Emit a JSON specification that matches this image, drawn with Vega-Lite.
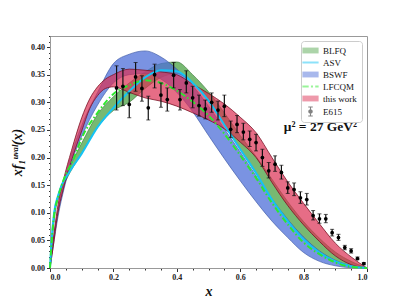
{
  "$schema": "https://vega.github.io/schema/vega-lite/v6.json",
  "width": 317,
  "height": 232,
  "autosize": {"type": "none"},
  "padding": {"left": 50, "top": 36, "right": 40, "bottom": 34},
  "background": "white",
  "config": {
    "view": {"stroke": "#999", "strokeWidth": 1},
    "axis": {
      "labelFont": "Liberation Serif",
      "labelFontWeight": "bold",
      "labelFontSize": 8,
      "labelColor": "#222",
      "domainColor": "#999",
      "tickColor": "#333",
      "grid": false,
      "titleFont": "Liberation Serif",
      "titleFontStyle": "italic",
      "titleFontWeight": "bold",
      "titleFontSize": 14,
      "titleColor": "#111",
      "labelOverlap": false
    }
  },
  "datasets": {
    "bands": [
      {"s": "BLFQ", "x": 0, "lo": 0, "hi": 0},
      {"s": "BLFQ", "x": 0.006, "lo": 0.045, "hi": 0.05},
      {"s": "BLFQ", "x": 0.015, "lo": 0.095, "hi": 0.102},
      {"s": "BLFQ", "x": 0.03, "lo": 0.132, "hi": 0.14},
      {"s": "BLFQ", "x": 0.05, "lo": 0.158, "hi": 0.168},
      {"s": "BLFQ", "x": 0.1, "lo": 0.208, "hi": 0.226},
      {"s": "BLFQ", "x": 0.15, "lo": 0.255, "hi": 0.278},
      {"s": "BLFQ", "x": 0.2, "lo": 0.285, "hi": 0.31},
      {"s": "BLFQ", "x": 0.25, "lo": 0.3, "hi": 0.335},
      {"s": "BLFQ", "x": 0.3, "lo": 0.325, "hi": 0.355},
      {"s": "BLFQ", "x": 0.35, "lo": 0.345, "hi": 0.37},
      {"s": "BLFQ", "x": 0.4, "lo": 0.352, "hi": 0.373},
      {"s": "BLFQ", "x": 0.45, "lo": 0.334, "hi": 0.35},
      {"s": "BLFQ", "x": 0.5, "lo": 0.303, "hi": 0.319},
      {"s": "BLFQ", "x": 0.55, "lo": 0.26, "hi": 0.281},
      {"s": "BLFQ", "x": 0.6, "lo": 0.215, "hi": 0.24},
      {"s": "BLFQ", "x": 0.65, "lo": 0.171, "hi": 0.202},
      {"s": "BLFQ", "x": 0.7, "lo": 0.124, "hi": 0.161},
      {"s": "BLFQ", "x": 0.75, "lo": 0.085, "hi": 0.12},
      {"s": "BLFQ", "x": 0.8, "lo": 0.053, "hi": 0.084},
      {"s": "BLFQ", "x": 0.85, "lo": 0.028, "hi": 0.054},
      {"s": "BLFQ", "x": 0.9, "lo": 0.011, "hi": 0.029},
      {"s": "BLFQ", "x": 0.95, "lo": 0.003, "hi": 0.012},
      {"s": "BLFQ", "x": 1, "lo": 0, "hi": 0},
      {"s": "BSWF", "x": 0, "lo": 0, "hi": 0},
      {"s": "BSWF", "x": 0.01, "lo": 0.038, "hi": 0.048},
      {"s": "BSWF", "x": 0.025, "lo": 0.092, "hi": 0.104},
      {"s": "BSWF", "x": 0.045, "lo": 0.145, "hi": 0.158},
      {"s": "BSWF", "x": 0.07, "lo": 0.195, "hi": 0.21},
      {"s": "BSWF", "x": 0.1, "lo": 0.238, "hi": 0.258},
      {"s": "BSWF", "x": 0.15, "lo": 0.295, "hi": 0.318},
      {"s": "BSWF", "x": 0.2, "lo": 0.335, "hi": 0.37},
      {"s": "BSWF", "x": 0.25, "lo": 0.35, "hi": 0.387},
      {"s": "BSWF", "x": 0.3, "lo": 0.352, "hi": 0.393},
      {"s": "BSWF", "x": 0.35, "lo": 0.342, "hi": 0.382},
      {"s": "BSWF", "x": 0.4, "lo": 0.318, "hi": 0.36},
      {"s": "BSWF", "x": 0.45, "lo": 0.283, "hi": 0.33},
      {"s": "BSWF", "x": 0.5, "lo": 0.24, "hi": 0.293},
      {"s": "BSWF", "x": 0.55, "lo": 0.198, "hi": 0.252},
      {"s": "BSWF", "x": 0.6, "lo": 0.158, "hi": 0.21},
      {"s": "BSWF", "x": 0.65, "lo": 0.12, "hi": 0.167},
      {"s": "BSWF", "x": 0.7, "lo": 0.085, "hi": 0.125},
      {"s": "BSWF", "x": 0.75, "lo": 0.055, "hi": 0.088},
      {"s": "BSWF", "x": 0.8, "lo": 0.028, "hi": 0.056},
      {"s": "BSWF", "x": 0.85, "lo": 0.012, "hi": 0.031},
      {"s": "BSWF", "x": 0.9, "lo": 0.004, "hi": 0.014},
      {"s": "BSWF", "x": 0.95, "lo": 0.0005, "hi": 0.004},
      {"s": "BSWF", "x": 1, "lo": 0, "hi": 0},
      {"s": "this work", "x": 0, "lo": 0, "hi": 0},
      {"s": "this work", "x": 0.01, "lo": 0.038, "hi": 0.05},
      {"s": "this work", "x": 0.023, "lo": 0.093, "hi": 0.106},
      {"s": "this work", "x": 0.042, "lo": 0.143, "hi": 0.158},
      {"s": "this work", "x": 0.068, "lo": 0.195, "hi": 0.213},
      {"s": "this work", "x": 0.1, "lo": 0.248, "hi": 0.272},
      {"s": "this work", "x": 0.125, "lo": 0.288, "hi": 0.306},
      {"s": "this work", "x": 0.15, "lo": 0.312, "hi": 0.328},
      {"s": "this work", "x": 0.175, "lo": 0.325, "hi": 0.342},
      {"s": "this work", "x": 0.2, "lo": 0.328, "hi": 0.35},
      {"s": "this work", "x": 0.25, "lo": 0.318, "hi": 0.36},
      {"s": "this work", "x": 0.3, "lo": 0.308, "hi": 0.358},
      {"s": "this work", "x": 0.35, "lo": 0.302, "hi": 0.355},
      {"s": "this work", "x": 0.4, "lo": 0.293, "hi": 0.35},
      {"s": "this work", "x": 0.45, "lo": 0.281, "hi": 0.333},
      {"s": "this work", "x": 0.5, "lo": 0.268, "hi": 0.316},
      {"s": "this work", "x": 0.55, "lo": 0.252, "hi": 0.297},
      {"s": "this work", "x": 0.6, "lo": 0.228, "hi": 0.273},
      {"s": "this work", "x": 0.65, "lo": 0.2, "hi": 0.245},
      {"s": "this work", "x": 0.7, "lo": 0.155, "hi": 0.2},
      {"s": "this work", "x": 0.75, "lo": 0.113, "hi": 0.156},
      {"s": "this work", "x": 0.8, "lo": 0.078, "hi": 0.117},
      {"s": "this work", "x": 0.85, "lo": 0.048, "hi": 0.08},
      {"s": "this work", "x": 0.9, "lo": 0.022, "hi": 0.045},
      {"s": "this work", "x": 0.95, "lo": 0.006, "hi": 0.02},
      {"s": "this work", "x": 1, "lo": 0, "hi": 0}
    ],
    "lines": [
      {"s": "ASV", "x": 0, "lo": 0},
      {"s": "ASV", "x": 0.005, "lo": 0.05},
      {"s": "ASV", "x": 0.013, "lo": 0.1},
      {"s": "ASV", "x": 0.025, "lo": 0.13},
      {"s": "ASV", "x": 0.037, "lo": 0.15},
      {"s": "ASV", "x": 0.06, "lo": 0.173},
      {"s": "ASV", "x": 0.1, "lo": 0.207},
      {"s": "ASV", "x": 0.15, "lo": 0.255},
      {"s": "ASV", "x": 0.2, "lo": 0.29},
      {"s": "ASV", "x": 0.25, "lo": 0.32},
      {"s": "ASV", "x": 0.3, "lo": 0.345},
      {"s": "ASV", "x": 0.35, "lo": 0.358},
      {"s": "ASV", "x": 0.4, "lo": 0.356},
      {"s": "ASV", "x": 0.45, "lo": 0.335},
      {"s": "ASV", "x": 0.5, "lo": 0.303},
      {"s": "ASV", "x": 0.55, "lo": 0.259},
      {"s": "ASV", "x": 0.6, "lo": 0.215},
      {"s": "ASV", "x": 0.65, "lo": 0.172},
      {"s": "ASV", "x": 0.7, "lo": 0.124},
      {"s": "ASV", "x": 0.75, "lo": 0.085},
      {"s": "ASV", "x": 0.8, "lo": 0.052},
      {"s": "ASV", "x": 0.85, "lo": 0.028},
      {"s": "ASV", "x": 0.9, "lo": 0.012},
      {"s": "ASV", "x": 0.95, "lo": 0.003},
      {"s": "ASV", "x": 1, "lo": 0},
      {"s": "LFCQM", "x": 0, "lo": 0},
      {"s": "LFCQM", "x": 0.005, "lo": 0.045},
      {"s": "LFCQM", "x": 0.013, "lo": 0.095},
      {"s": "LFCQM", "x": 0.025, "lo": 0.127},
      {"s": "LFCQM", "x": 0.04, "lo": 0.155},
      {"s": "LFCQM", "x": 0.076, "lo": 0.2},
      {"s": "LFCQM", "x": 0.1, "lo": 0.235},
      {"s": "LFCQM", "x": 0.15, "lo": 0.281},
      {"s": "LFCQM", "x": 0.2, "lo": 0.315},
      {"s": "LFCQM", "x": 0.25, "lo": 0.331},
      {"s": "LFCQM", "x": 0.3, "lo": 0.34},
      {"s": "LFCQM", "x": 0.35, "lo": 0.335},
      {"s": "LFCQM", "x": 0.4, "lo": 0.321},
      {"s": "LFCQM", "x": 0.45, "lo": 0.301},
      {"s": "LFCQM", "x": 0.5, "lo": 0.276},
      {"s": "LFCQM", "x": 0.55, "lo": 0.243},
      {"s": "LFCQM", "x": 0.6, "lo": 0.204},
      {"s": "LFCQM", "x": 0.65, "lo": 0.163},
      {"s": "LFCQM", "x": 0.7, "lo": 0.118},
      {"s": "LFCQM", "x": 0.75, "lo": 0.079},
      {"s": "LFCQM", "x": 0.8, "lo": 0.046},
      {"s": "LFCQM", "x": 0.85, "lo": 0.025},
      {"s": "LFCQM", "x": 0.9, "lo": 0.01},
      {"s": "LFCQM", "x": 0.95, "lo": 0.002},
      {"s": "LFCQM", "x": 1, "lo": 0}
    ],
    "e615": [
      {"s": "E615", "x": 0.21, "v": 0.326, "lo": 0.286, "hi": 0.366},
      {"s": "E615", "x": 0.23, "v": 0.329, "lo": 0.294, "hi": 0.361},
      {"s": "E615", "x": 0.25, "v": 0.296, "lo": 0.272, "hi": 0.317},
      {"s": "E615", "x": 0.27, "v": 0.346, "lo": 0.32, "hi": 0.372},
      {"s": "E615", "x": 0.29, "v": 0.325, "lo": 0.302, "hi": 0.348},
      {"s": "E615", "x": 0.31, "v": 0.29, "lo": 0.268, "hi": 0.311},
      {"s": "E615", "x": 0.33, "v": 0.35, "lo": 0.326, "hi": 0.369},
      {"s": "E615", "x": 0.35, "v": 0.313, "lo": 0.291, "hi": 0.335},
      {"s": "E615", "x": 0.37, "v": 0.305, "lo": 0.284, "hi": 0.326},
      {"s": "E615", "x": 0.39, "v": 0.349, "lo": 0.326, "hi": 0.372},
      {"s": "E615", "x": 0.41, "v": 0.305, "lo": 0.286, "hi": 0.323},
      {"s": "E615", "x": 0.43, "v": 0.335, "lo": 0.317, "hi": 0.357},
      {"s": "E615", "x": 0.45, "v": 0.308, "lo": 0.29, "hi": 0.329},
      {"s": "E615", "x": 0.47, "v": 0.294, "lo": 0.275, "hi": 0.313},
      {"s": "E615", "x": 0.49, "v": 0.288, "lo": 0.27, "hi": 0.304},
      {"s": "E615", "x": 0.51, "v": 0.3, "lo": 0.282, "hi": 0.317},
      {"s": "E615", "x": 0.53, "v": 0.286, "lo": 0.268, "hi": 0.302},
      {"s": "E615", "x": 0.55, "v": 0.293, "lo": 0.274, "hi": 0.313},
      {"s": "E615", "x": 0.57, "v": 0.251, "lo": 0.236, "hi": 0.266},
      {"s": "E615", "x": 0.59, "v": 0.26, "lo": 0.245, "hi": 0.276},
      {"s": "E615", "x": 0.61, "v": 0.246, "lo": 0.232, "hi": 0.262},
      {"s": "E615", "x": 0.63, "v": 0.233, "lo": 0.22, "hi": 0.248},
      {"s": "E615", "x": 0.65, "v": 0.227, "lo": 0.212, "hi": 0.242},
      {"s": "E615", "x": 0.67, "v": 0.2, "lo": 0.184, "hi": 0.215},
      {"s": "E615", "x": 0.69, "v": 0.176, "lo": 0.163, "hi": 0.191},
      {"s": "E615", "x": 0.71, "v": 0.188, "lo": 0.175, "hi": 0.203},
      {"s": "E615", "x": 0.73, "v": 0.173, "lo": 0.161, "hi": 0.186},
      {"s": "E615", "x": 0.75, "v": 0.145, "lo": 0.135, "hi": 0.156},
      {"s": "E615", "x": 0.77, "v": 0.142, "lo": 0.131, "hi": 0.154},
      {"s": "E615", "x": 0.79, "v": 0.127, "lo": 0.117, "hi": 0.138},
      {"s": "E615", "x": 0.81, "v": 0.124, "lo": 0.114, "hi": 0.135},
      {"s": "E615", "x": 0.83, "v": 0.095, "lo": 0.087, "hi": 0.104},
      {"s": "E615", "x": 0.85, "v": 0.089, "lo": 0.081, "hi": 0.098},
      {"s": "E615", "x": 0.87, "v": 0.089, "lo": 0.082, "hi": 0.097},
      {"s": "E615", "x": 0.89, "v": 0.064, "lo": 0.058, "hi": 0.07},
      {"s": "E615", "x": 0.91, "v": 0.055, "lo": 0.05, "hi": 0.061},
      {"s": "E615", "x": 0.93, "v": 0.037, "lo": 0.033, "hi": 0.041},
      {"s": "E615", "x": 0.95, "v": 0.031, "lo": 0.027, "hi": 0.035},
      {"s": "E615", "x": 0.97, "v": 0.017, "lo": 0.015, "hi": 0.02},
      {"s": "E615", "x": 0.99, "v": 0.008, "lo": 0.006, "hi": 0.01}
    ],
    "note": [
      {"x": 0.853, "lo": 0.255, "label": "μ² = 27 GeV²"}
    ]
  },
  "encoding": {
    "x": {
      "field": "x", "type": "quantitative",
      "scale": {"domain": [0, 1], "nice": false},
      "axis": {
        "title": "x",
        "values": [0, 0.05, 0.1, 0.15, 0.2, 0.25, 0.3, 0.35, 0.4, 0.45, 0.5, 0.55, 0.6, 0.65, 0.7, 0.75, 0.8, 0.85, 0.9, 0.95, 1],
        "labelExpr": "round(datum.value*100) % 20 == 0 ? format(datum.value, '.1f') : ''",
        "tickSize": {"condition": {"test": "round(datum.value*100) % 20 == 0", "value": 3.5}, "value": 2},
        "labelOverlap": false,
        "labelPadding": 2,
        "titlePadding": 3
      }
    },
    "y": {
      "field": "lo", "type": "quantitative",
      "scale": {"domain": [0, 0.42], "nice": false},
      "axis": {
        "title": "xf₁ᵘᵛᵃˡ(x)",
        "values": [0, 0.01, 0.02, 0.03, 0.04, 0.05, 0.06, 0.07, 0.08, 0.09, 0.1, 0.11, 0.12, 0.13, 0.14, 0.15, 0.16, 0.17, 0.18, 0.19, 0.2, 0.21, 0.22, 0.23, 0.24, 0.25, 0.26, 0.27, 0.28, 0.29, 0.3, 0.31, 0.32, 0.33, 0.34, 0.35, 0.36, 0.37, 0.38, 0.39, 0.4, 0.41, 0.42],
        "labelExpr": "round(datum.value*100) % 5 == 0 ? format(datum.value, '.2f') : ''",
        "tickSize": {"condition": {"test": "round(datum.value*100) % 5 == 0", "value": 3.5}, "value": 1.5},
        "labelOverlap": false,
        "labelPadding": 2,
        "titlePadding": 6
      }
    }
  },
  "layer": [
    {
      "data": {"name": "bands"},
      "transform": [{"filter": "datum.s == 'BLFQ'"}],
      "mark": {"type": "area", "interpolate": "monotone", "fill": "#55a84f", "fillOpacity": 0.8, "stroke": "#2f6e2c", "strokeWidth": 0.6},
      "encoding": {"y2": {"field": "hi"}}
    },
    {
      "data": {"name": "bands"},
      "transform": [{"filter": "datum.s == 'BSWF'"}],
      "mark": {"type": "area", "interpolate": "monotone", "fill": "#4d6fd8", "fillOpacity": 0.75, "stroke": "#34509e", "strokeWidth": 0.6},
      "encoding": {"y2": {"field": "hi"}}
    },
    {
      "data": {"name": "bands"},
      "transform": [{"filter": "datum.s == 'this work'"}],
      "mark": {"type": "area", "interpolate": "monotone", "fill": "#dc2f52", "fillOpacity": 0.7, "stroke": "#7a1225", "strokeWidth": 0.8},
      "encoding": {"y2": {"field": "hi"}}
    },
    {
      "data": {"name": "lines"},
      "transform": [{"filter": "datum.s == 'ASV'"}],
      "mark": {"type": "line", "interpolate": "monotone", "color": "#14c3f5", "strokeWidth": 2},
      "encoding": {}
    },
    {
      "data": {"name": "lines"},
      "transform": [{"filter": "datum.s == 'LFCQM'"}],
      "mark": {"type": "line", "interpolate": "monotone", "color": "#2ee82e", "strokeWidth": 2, "strokeDash": [6, 2.5, 1.5, 2.5]},
      "encoding": {}
    },
    {
      "data": {"name": "e615"},
      "mark": {"type": "rule", "color": "#111", "strokeWidth": 1.2},
      "encoding": {"y2": {"field": "hi"}}
    },
    {
      "data": {"name": "e615"},
      "mark": {"type": "tick", "orient": "horizontal", "color": "#111", "size": 4, "thickness": 1},
      "encoding": {}
    },
    {
      "data": {"name": "e615"},
      "mark": {"type": "tick", "orient": "horizontal", "color": "#111", "size": 4, "thickness": 1, "yOffset": 0},
      "encoding": {"y": {"field": "hi", "type": "quantitative", "scale": {"domain": [0, 0.42], "nice": false},
        "axis": {
          "title": "xf₁ᵘᵛᵃˡ(x)",
          "values": [0, 0.01, 0.02, 0.03, 0.04, 0.05, 0.06, 0.07, 0.08, 0.09, 0.1, 0.11, 0.12, 0.13, 0.14, 0.15, 0.16, 0.17, 0.18, 0.19, 0.2, 0.21, 0.22, 0.23, 0.24, 0.25, 0.26, 0.27, 0.28, 0.29, 0.3, 0.31, 0.32, 0.33, 0.34, 0.35, 0.36, 0.37, 0.38, 0.39, 0.4, 0.41, 0.42],
          "labelExpr": "round(datum.value*100) % 5 == 0 ? format(datum.value, '.2f') : ''",
          "tickSize": {"condition": {"test": "round(datum.value*100) % 5 == 0", "value": 3.5}, "value": 1.5},
          "labelOverlap": false,
          "labelPadding": 2,
          "titlePadding": 6
        }}}
    },
    {
      "data": {"name": "e615"},
      "mark": {"type": "point", "filled": true, "color": "#000", "size": 14, "opacity": 1},
      "encoding": {"y": {"field": "v", "type": "quantitative", "scale": {"domain": [0, 0.42], "nice": false},
        "axis": {
          "title": "xf₁ᵘᵛᵃˡ(x)",
          "values": [0, 0.01, 0.02, 0.03, 0.04, 0.05, 0.06, 0.07, 0.08, 0.09, 0.1, 0.11, 0.12, 0.13, 0.14, 0.15, 0.16, 0.17, 0.18, 0.19, 0.2, 0.21, 0.22, 0.23, 0.24, 0.25, 0.26, 0.27, 0.28, 0.29, 0.3, 0.31, 0.32, 0.33, 0.34, 0.35, 0.36, 0.37, 0.38, 0.39, 0.4, 0.41, 0.42],
          "labelExpr": "round(datum.value*100) % 5 == 0 ? format(datum.value, '.2f') : ''",
          "tickSize": {"condition": {"test": "round(datum.value*100) % 5 == 0", "value": 3.5}, "value": 1.5},
          "labelOverlap": false,
          "labelPadding": 2,
          "titlePadding": 6
        }}}
    },
    {
      "data": {"name": "note"},
      "mark": {"type": "text", "font": "Liberation Serif", "fontSize": 13.5, "fontWeight": "bold", "color": "#111"},
      "encoding": {"text": {"field": "label"}}
    },
    {
      "data": {"name": "e615"},
      "transform": [{"filter": "datum.x > 2"}],
      "mark": {"type": "point", "filled": true},
      "encoding": {
        "color": {
          "field": "s", "type": "nominal",
          "scale": {"domain": ["BLFQ", "ASV", "BSWF", "LFCQM", "this work", "E615"],
                    "range": ["#55a84f", "#14c3f5", "#4d6fd8", "#2ee82e", "#dc2f52", "#000000"]},
          "legend": {
            "orient": "top-right", "offset": 5, "title": null,
            "fillColor": "white", "strokeColor": "#ccc", "cornerRadius": 3,
            "padding": 5, "rowPadding": 2,
            "labelFont": "Liberation Serif", "labelFontSize": 9, "labelColor": "#111",
            "labelOffset": 8, "symbolSize": 81, "symbolOpacity": 1, "symbolStrokeWidth": 0
          }
        },
        "shape": {
          "field": "s", "type": "nominal",
          "scale": {"domain": ["BLFQ", "ASV", "BSWF", "LFCQM", "this work", "E615"],
                    "range": [
                      "M-1.8,-0.65H1.8V0.65H-1.8Z",
                      "M-1.8,-0.22H1.8V0.22H-1.8Z",
                      "M-1.8,-0.65H1.8V0.65H-1.8Z",
                      "M-1.8,-0.22H-0.4V0.22H-1.8Z M0.1,-0.22H0.55V0.22H0.1Z M1.05,-0.22H1.8V0.22H1.05Z",
                      "M-1.8,-0.65H1.8V0.65H-1.8Z",
                      "M-0.12,-1.1H0.12V1.1H-0.12Z M-0.5,-1.1H0.5V-0.9H-0.5Z M-0.5,0.9H0.5V1.1H-0.5Z M0,-0.5A0.5,0.5 0 1 1 0,0.5A0.5,0.5 0 1 1 0,-0.5Z"
                    ]}
        }
      }
    }
  ]
}
